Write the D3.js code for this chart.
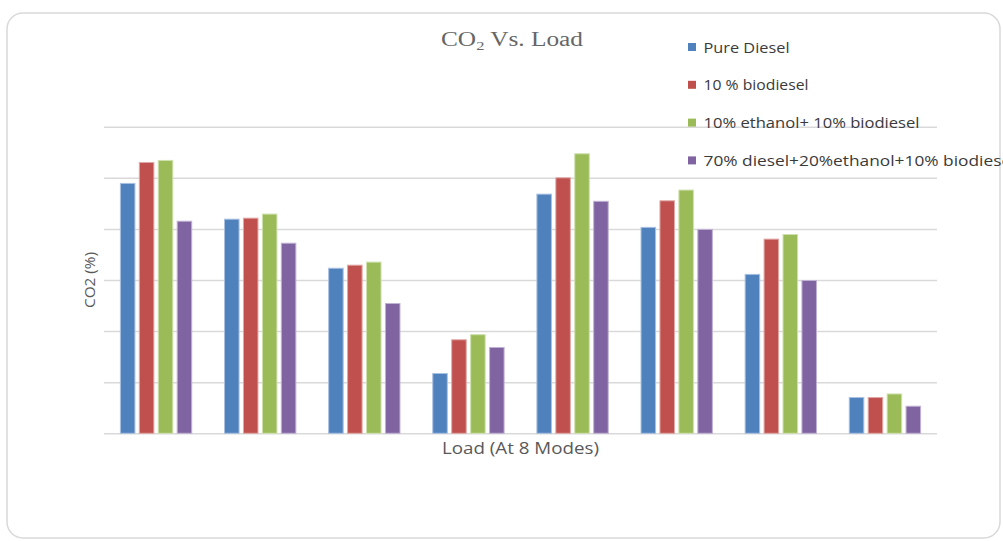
<!DOCTYPE html>
<html>
<head>
<meta charset="utf-8">
<script src="https://cdn.jsdelivr.net/npm/d3@7"></script>
<style>
  html, body { margin: 0; padding: 0; background: #ffffff; }
  svg { display: block; }
</style>
</head>
<body>
<svg id="chart" width="1003" height="541"></svg>
<script>
// ---- data ----
const modes = ["Mode 1", "Mode 2", "Mode 3", "Mode 4", "Mode 5", "Mode 6", "Mode 7", "Mode 8"];
const seriesNames = [
  "Pure Diesel",
  "10 % biodiesel",
  "10% ethanol+ 10% biodiesel",
  "70% diesel+20%ethanol+10% biodiesel"
];
const pureDiesel   = [4.89, 4.19, 3.23, 1.17, 4.68, 4.03, 3.11, 0.70];
const bio10        = [5.30, 4.21, 3.29, 1.83, 5.00, 4.55, 3.80, 0.70];
const eth10bio10   = [5.34, 4.29, 3.35, 1.93, 5.47, 4.76, 3.89, 0.77];
const dsl70eth20   = [4.15, 3.72, 2.54, 1.68, 4.54, 3.99, 2.99, 0.53];
const yTicks = [0, 1, 2, 3, 4, 5, 6];
const colors = ["#4F81BD", "#C0504D", "#9BBB59", "#8064A2"];
const strokes = ["#a9c0e0", "#e0a8a6", "#cfe0ad", "#c0b2d2"];

const seriesValues = [pureDiesel, bio10, eth10bio10, dsl70eth20];

// ---- layout ----
const svg = d3.select("#chart");
const plot = { left: 104, right: 937, top: 126.7, bottom: 433.3 };

// frame
svg.append("rect")
  .attr("x", 7).attr("y", 13)
  .attr("width", 993).attr("height", 525)
  .attr("rx", 16).attr("ry", 16)
  .attr("fill", "#ffffff")
  .attr("stroke", "#d9d9d9")
  .attr("stroke-width", 1.5);

const x0 = d3.scaleBand()
  .domain(modes)
  .range([plot.left, plot.right])
  .paddingInner(1.5 / 5.5)
  .paddingOuter(0.75 / 5.5);

const x1 = d3.scaleBand()
  .domain(d3.range(seriesNames.length))
  .range([0, x0.bandwidth()]);

const y = d3.scaleLinear()
  .domain([0, 6])
  .range([plot.bottom, plot.top]);

// gridlines
const yAxis = d3.axisLeft(y)
  .tickValues(yTicks)
  .tickSize(-(plot.right - plot.left))
  .tickFormat("");
const gy = svg.append("g")
  .attr("transform", `translate(${plot.left},0)`)
  .call(yAxis);
gy.select(".domain").remove();
gy.selectAll(".tick line")
  .attr("stroke", "#d9d9d9")
  .attr("stroke-width", 1.5);

// x axis (no labels)
const xAxis = d3.axisBottom(x0).tickSize(0).tickFormat("");
const gx = svg.append("g")
  .attr("transform", `translate(0,${plot.bottom})`)
  .call(xAxis);
gx.select(".domain").remove();

// bars
const inset = 2.2;
const groups = svg.append("g")
  .selectAll("g")
  .data(modes)
  .join("g")
  .attr("transform", d => `translate(${x0(d)},0)`);

groups.selectAll("rect")
  .data((d, i) => seriesValues.map((vals, s) => ({ s, v: vals[i] })))
  .join("rect")
  .attr("x", d => x1(d.s) + inset)
  .attr("width", x1.bandwidth() - 2 * inset)
  .attr("y", d => y(d.v))
  .attr("height", d => y(0) - y(d.v))
  .attr("fill", d => colors[d.s])
  .attr("stroke", d => strokes[d.s])
  .attr("stroke-width", 1);

// title
const title = svg.append("text")
  .attr("x", 441).attr("y", 46)
  .attr("font-family", "'Liberation Serif', 'DejaVu Serif', serif")
  .attr("font-size", 20)
  .attr("fill", "#666666")
  .attr("textLength", 142)
  .attr("lengthAdjust", "spacingAndGlyphs");
title.append("tspan").text("CO");
title.append("tspan").attr("font-size", 13).attr("dy", 4).text("2");
title.append("tspan").attr("dy", -4).text(" Vs. Load");

// axis titles
svg.append("text")
  .attr("transform", "translate(95,280) rotate(-90)")
  .attr("text-anchor", "middle")
  .attr("font-family", "'Open Sans', sans-serif")
  .attr("font-size", 15)
  .attr("fill", "#595959")
  .attr("textLength", 56)
  .attr("lengthAdjust", "spacingAndGlyphs")
  .text("CO2 (%)");

svg.append("text")
  .attr("x", 442).attr("y", 454)
  .attr("font-family", "'Open Sans', sans-serif")
  .attr("font-size", 15.5)
  .attr("fill", "#595959")
  .attr("textLength", 157)
  .attr("lengthAdjust", "spacingAndGlyphs")
  .text("Load (At 8 Modes)");

// legend
const legendWidths = [86, 105, 216, 312];
const legend = svg.append("g");
const rows = legend.selectAll("g")
  .data(seriesNames)
  .join("g")
  .attr("transform", (d, i) => `translate(688,${47 + i * 37.8})`);
rows.append("rect")
  .attr("x", 0).attr("y", -4)
  .attr("width", 8).attr("height", 8)
  .attr("fill", (d, i) => colors[i]);
rows.append("text")
  .attr("x", 15.5).attr("y", 5.5)
  .attr("font-family", "'Open Sans', sans-serif")
  .attr("font-size", 15)
  .attr("font-weight", 500)
  .attr("fill", "#3a3a3a")
  .attr("textLength", (d, i) => legendWidths[i])
  .attr("lengthAdjust", "spacingAndGlyphs")
  .text(d => d);
</script>
</body>
</html>
